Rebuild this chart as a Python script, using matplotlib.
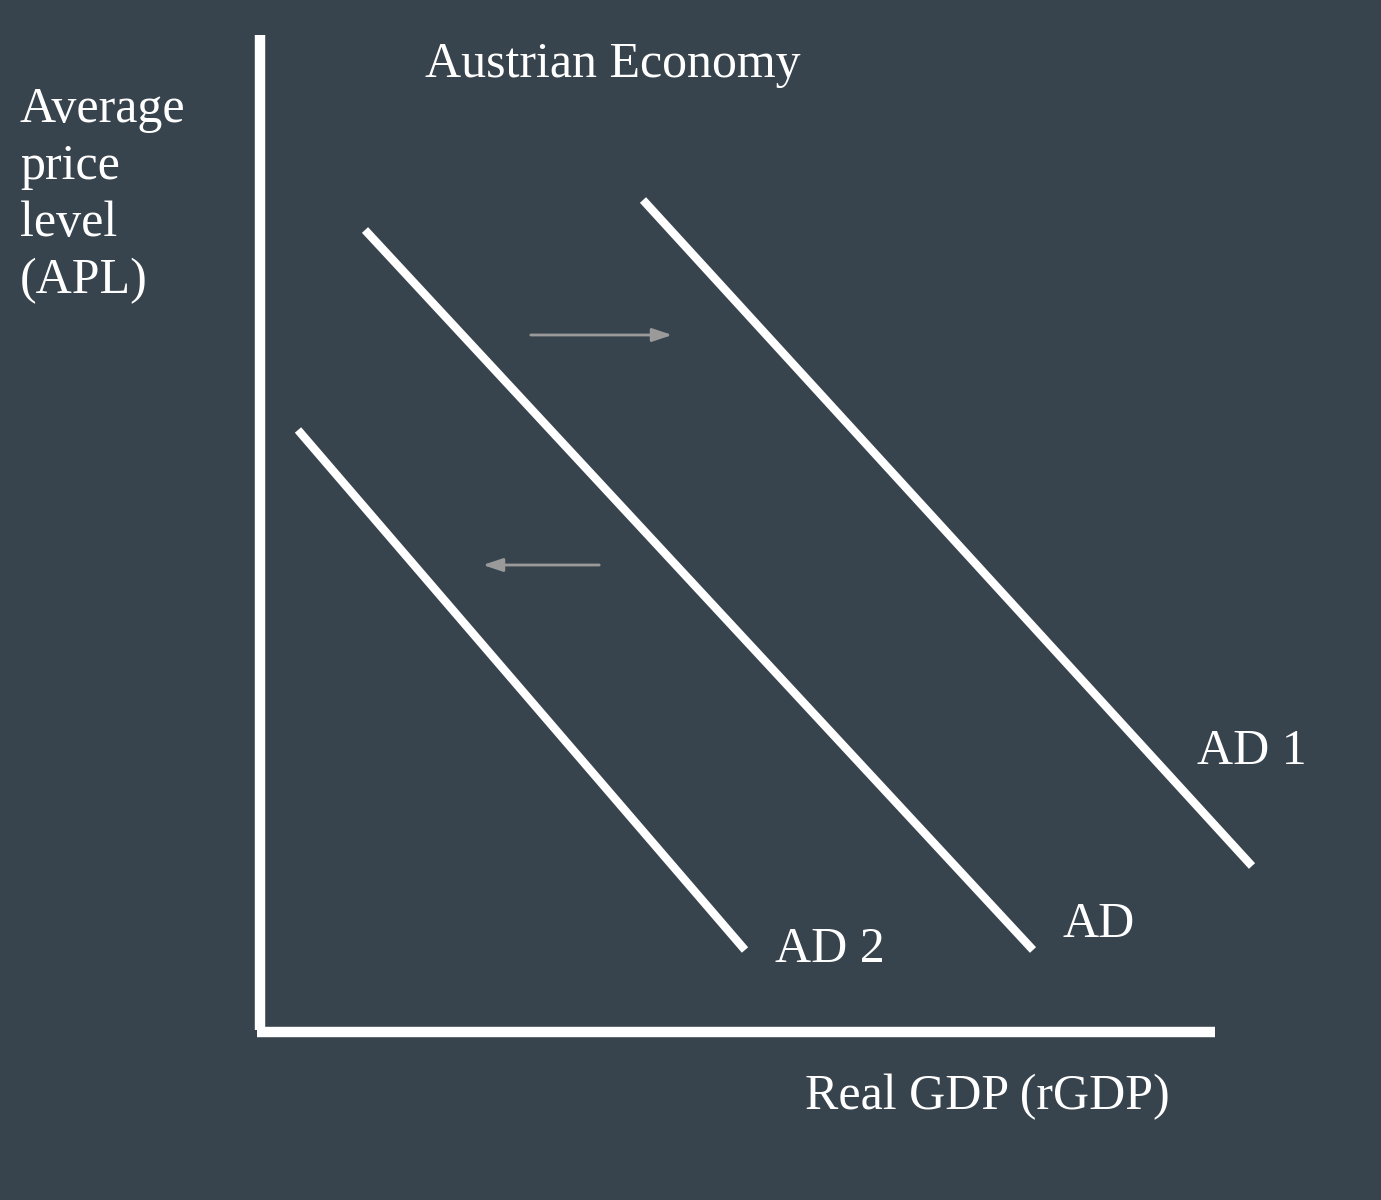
import matplotlib.pyplot as plt

BG = "#38444d"
FG = "white"

# curve endpoints in pixel-space data units (x right, y down)
curve_names = ["AD 2", "AD", "AD 1"]
curve_x = [[298, 745], [365, 1033], [643, 1252]]
curve_y = [[430, 950], [230, 950], [200, 866]]
label_xy = [(775, 950), (1063, 925), (1197, 752)]

arrow_from = [(528, 335), (602, 565)]
arrow_to = [(675, 335), (480, 565)]

fig = plt.figure(figsize=(13.81, 12), dpi=100, facecolor=BG)
ax = fig.add_axes([0, 0, 1, 1])
ax.set_facecolor(BG)
ax.set_xlim(0, 1381)
ax.set_ylim(1200, 0)
ax.axis("off")

# axes
ax.plot([260, 260], [35, 1030], color=FG, lw=7.5, solid_capstyle="butt")
ax.plot([257, 1215], [1032, 1032], color=FG, lw=7.5, solid_capstyle="butt")

for name, xs, ys, (lx, ly) in zip(curve_names, curve_x, curve_y, label_xy):
    ax.plot(xs, ys, color=FG, lw=6, solid_capstyle="butt")
    ax.text(lx, ly, name, color=FG, fontsize=36, family="Liberation Serif",
            va="center", ha="left")

for (x0, y0), (x1, y1) in zip(arrow_from, arrow_to):
    ax.annotate("", xy=(x1, y1), xytext=(x0, y0),
                arrowprops=dict(arrowstyle="-|>,head_length=1.2,head_width=0.4",
                                color="#9a9a9a", lw=2))

ax.text(425, 65, "Austrian Economy", color=FG, fontsize=36,
        family="Liberation Serif", va="center", ha="left")
ax.text(20, 195, "Average\nprice\nlevel\n(APL)", color=FG, fontsize=36,
        family="Liberation Serif", va="center", ha="left", linespacing=1.3)
ax.text(805, 1097, "Real GDP (rGDP)", color=FG, fontsize=36,
        family="Liberation Serif", va="center", ha="left")

fig.savefig("out.png", dpi=100, facecolor=BG)
